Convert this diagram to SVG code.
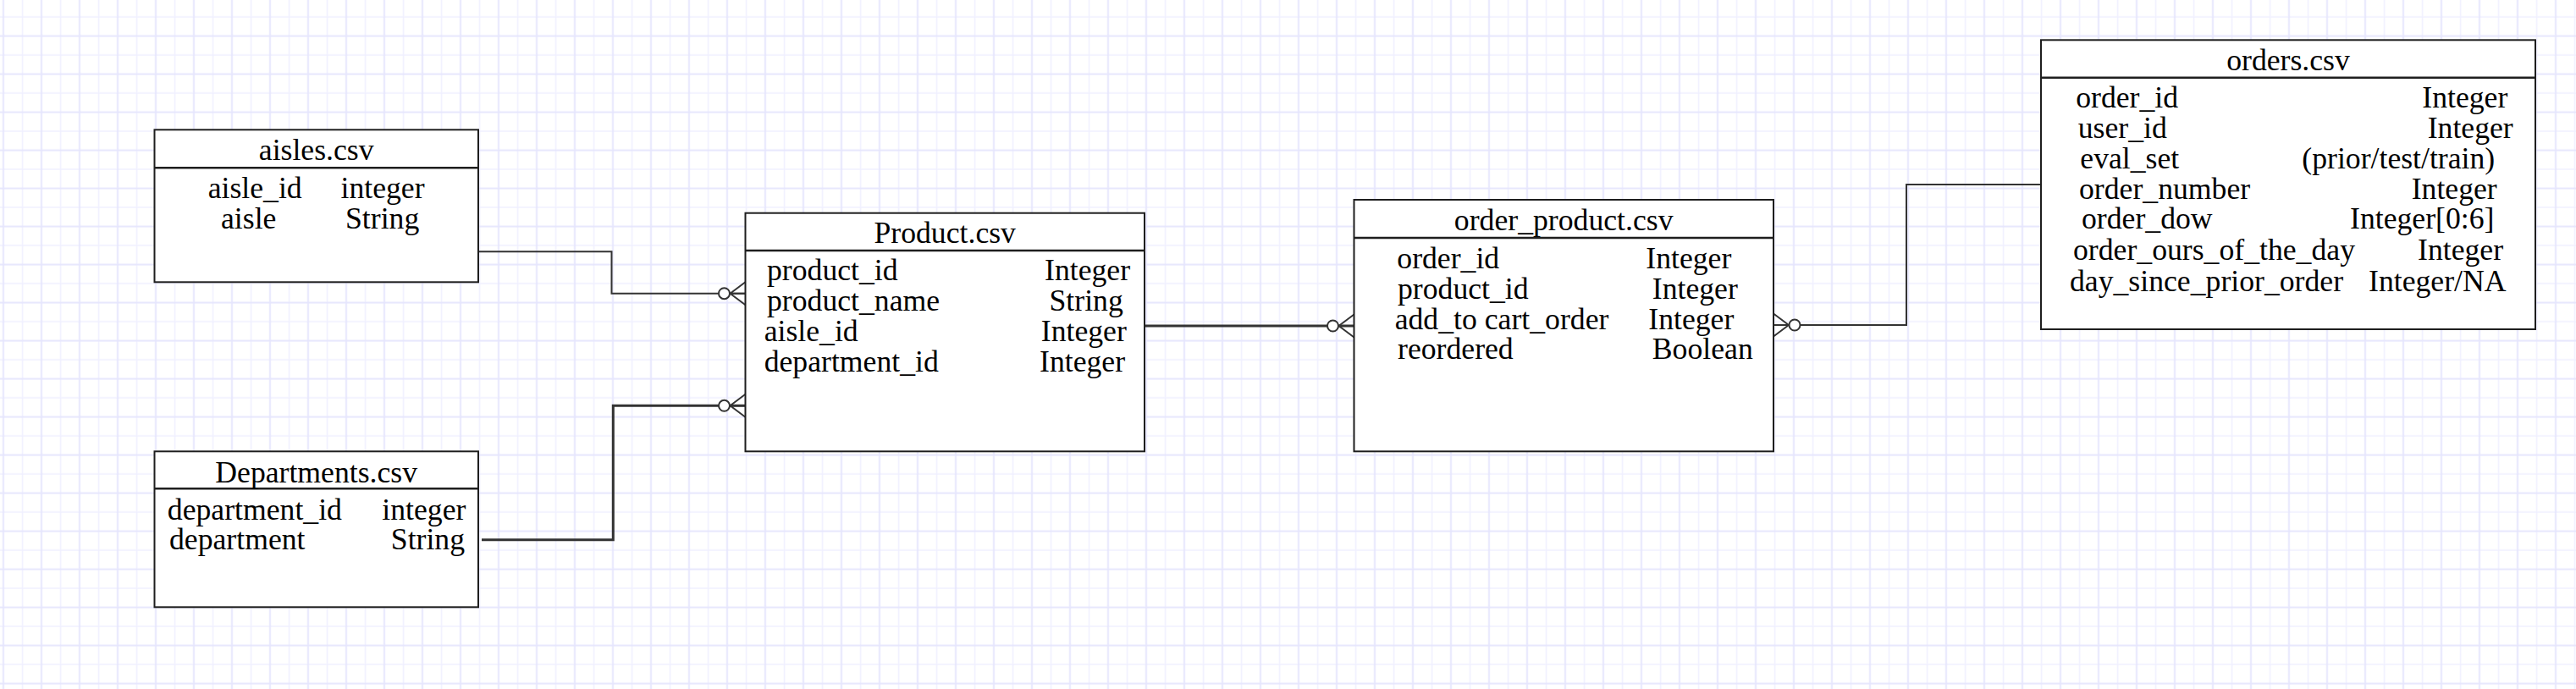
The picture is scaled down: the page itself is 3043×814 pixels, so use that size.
<svg xmlns="http://www.w3.org/2000/svg" width="3043" height="814" viewBox="0 0 3043 814">
<style>
.box{fill:#ffffff;stroke:#1e1e1e;stroke-width:2}
.hdr{stroke:#1e1e1e;stroke-width:2.5;fill:none}
.t{font-family:"Liberation Serif","Times New Roman",serif;font-size:35.7px;fill:#000}
.ttl{text-anchor:middle}
.c{fill:none;stroke:#333;stroke-width:2;marker-end:url(#zeroMany)}
.thick{stroke-width:3}
</style>
<defs>
<pattern id="grid" x="-7.25" y="8.75" width="45" height="45" patternUnits="userSpaceOnUse">
<rect x="33" y="0" width="1.5" height="45" fill="#f0f0ff"/>
<rect x="0" y="10.5" width="45" height="1.5" fill="#f0f0ff"/>
<rect x="10.25" y="0" width="2" height="45" fill="#e6e6fd"/>
<rect x="0" y="32.75" width="45" height="2" fill="#e6e6fd"/>
</pattern>
<marker id="zeroMany" viewBox="-34 -17 36 34" markerWidth="36" markerHeight="34" refX="0" refY="0" orient="auto" markerUnits="userSpaceOnUse">
<path d="M-18,0 L0,-13.5 M-18,0 L0,13.5 M-18,0 H0" fill="none" stroke="#333" stroke-width="2"/>
<circle cx="-25" cy="0" r="6.5" fill="#fff" stroke="#333" stroke-width="2"/>
</marker>
</defs>
<rect x="0" y="0" width="3043" height="814" fill="#ffffff"/>
<rect x="0" y="0" width="3043" height="814" fill="url(#grid)"/>

<g id="connectors">
<path class="c" d="M565,297.3 H722.5 V346.7 H880.5"/>
<path class="c thick" d="M569,637.7 H724.3 V479.3 H880.5"/>
<path class="c thick" d="M1352,385 H1599.5"/>
<path class="c" d="M2411,218 H2252 V384 H2095"/>
</g>

<g id="aisles" transform="translate(0,0)">
<rect class="box" x="182.5" y="153.3" width="382.5" height="180"/>
<line class="hdr" x1="182.5" y1="198.3" x2="565" y2="198.3"/>
<g transform="translate(0,2)">
<text class="t ttl" x="373.7" y="187">aisles.csv</text>
<text class="t" x="245.7" y="231.7">aisle_id</text>
<text class="t" x="402.5" y="231.7">integer</text>
<text class="t" x="261" y="268.3">aisle</text>
<text class="t" x="408" y="268.3">String</text>
</g>
</g>

<g id="departments">
<rect class="box" x="182.5" y="533.3" width="382.5" height="184"/>
<line class="hdr" x1="182.5" y1="577.3" x2="565" y2="577.3"/>
<g transform="translate(0,2)">
<text class="t ttl" x="373.7" y="567.7">Departments.csv</text>
<text class="t" x="197.8" y="611.7">department_id</text>
<text class="t" x="451.3" y="611.7">integer</text>
<text class="t" x="200" y="647.3">department</text>
<text class="t" x="461.8" y="647.3">String</text>
</g>
</g>

<g id="product">
<rect class="box" x="880.5" y="251.7" width="471.5" height="281.6"/>
<line class="hdr" x1="880.5" y1="296" x2="1352" y2="296"/>
<g transform="translate(0,2)">
<text class="t ttl" x="1116.2" y="285">Product.csv</text>
<text class="t" x="906" y="329.3">product_id</text>
<text class="t" x="1234" y="329.3">Integer</text>
<text class="t" x="906" y="365">product_name</text>
<text class="t" x="1239.5" y="365">String</text>
<text class="t" x="902.7" y="400.7">aisle_id</text>
<text class="t" x="1229.8" y="400.7">Integer</text>
<text class="t" x="902.7" y="436.7">department_id</text>
<text class="t" x="1228" y="436.7">Integer</text>
</g>
</g>

<g id="order_product">
<rect class="box" x="1599.5" y="236" width="495.5" height="297.3"/>
<line class="hdr" x1="1599.5" y1="281" x2="2095" y2="281"/>
<g transform="translate(0,2)">
<text class="t ttl" x="1847.2" y="270">order_product.csv</text>
<text class="t" x="1650.3" y="315">order_id</text>
<text class="t" x="1944.3" y="315">Integer</text>
<text class="t" x="1651" y="350.7">product_id</text>
<text class="t" x="1951.8" y="350.7">Integer</text>
<text class="t" x="1647.7" y="386.7">add_to cart_order</text>
<text class="t" x="1947.3" y="386.7">Integer</text>
<text class="t" x="1651" y="421.7">reordered</text>
<text class="t" x="1951.8" y="421.7">Boolean</text>
</g>
</g>

<g id="orders">
<rect class="box" x="2411" y="47.3" width="584" height="341.7"/>
<line class="hdr" x1="2411" y1="91.7" x2="2995" y2="91.7"/>
<g transform="translate(0,2)">
<text class="t ttl" x="2703" y="80.7">orders.csv</text>
<text class="t" x="2452.2" y="125">order_id</text>
<text class="t" x="2861.3" y="125">Integer</text>
<text class="t" x="2454.7" y="160.7">user_id</text>
<text class="t" x="2867.7" y="160.7">Integer</text>
<text class="t" x="2457.3" y="196.7">eval_set</text>
<text class="t" x="2719.3" y="196.7">(prior/test/train)</text>
<text class="t" x="2456" y="232.7">order_number</text>
<text class="t" x="2848.7" y="232.7">Integer</text>
<text class="t" x="2459" y="268.3">order_dow</text>
<text class="t" x="2776" y="268.3">Integer[0:6]</text>
<text class="t" x="2449" y="305">order_ours_of_the_day</text>
<text class="t" x="2856" y="305">Integer</text>
<text class="t" x="2445" y="341.7">day_since_prior_order</text>
<text class="t" x="2798" y="341.7">Integer/NA</text>
</g>
</g>
</svg>
